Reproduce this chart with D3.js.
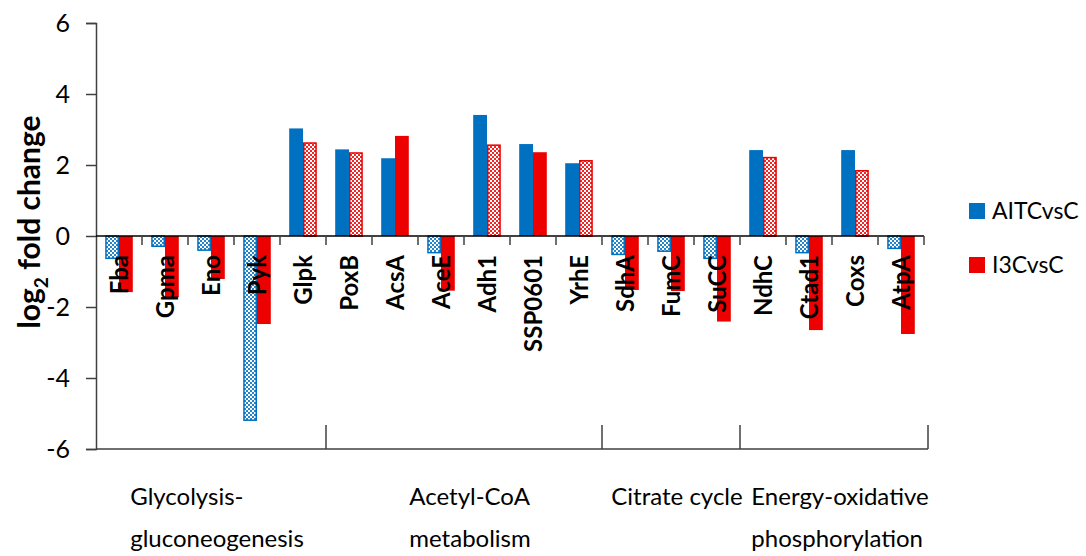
<!DOCTYPE html>
<html>
<head>
<meta charset="utf-8">
<script src="https://cdn.jsdelivr.net/npm/d3@7"></script>
<style>
  html, body { margin: 0; padding: 0; background: #fff; }
  svg { display: block; font-family: Lato, "Noto Sans", sans-serif; }
</style>
</head>
<body>
<svg id="chart" width="1086" height="556"></svg>
<script>
// Gene names along the x axis
const genes = ["Fba", "Gpma", "Eno", "Pyk", "Glpk", "PoxB", "AcsA", "AceE", "Adh1",
  "SSP0601", "YrhE", "SdhA", "FumC", "SuCC", "NdhC", "Ctad1", "Coxs", "AtpA"];

// log2 fold change per treatment
const aitcVsC = [-0.65, -0.31, -0.42, -5.21, 3.03, 2.44, 2.19, -0.49, 3.41,
  2.59, 2.05, -0.54, -0.45, -0.65, 2.42, -0.49, 2.42, -0.37];
const i3cVsC = [-1.58, -1.72, -1.21, -2.48, 2.64, 2.36, 2.82, -1.54, 2.58,
  2.36, 2.14, -1.52, -1.55, -2.41, 2.23, -2.65, 1.86, -2.76];

// Which bars are drawn with the checkered fill
const aitcChecked = [true, true, true, true, false, false, false, true, false,
  false, false, true, true, true, false, true, false, true];
const i3cChecked = [false, false, false, false, true, true, false, false, true,
  false, true, false, false, false, true, false, true, false];

const seriesNames = ["AITCvsC", "I3CvsC"];
const seriesColors = ["#0070C0", "#EC0000"];

// Pathway groups (label lines, number of genes)
const groupLabels = [["Glycolysis-", "gluconeogenesis"], ["Acetyl-CoA", "metabolism"],
  ["Citrate cycle"], ["Energy-oxidative", "phosphorylation"]];
const groupSizes = [5, 6, 3, 4];

const yTicks = [6, 4, 2, 0, -2, -4, -6];

const svg = d3.select("#chart");
const axisColor = "#404040";

const x = d3.scaleBand().domain(genes).range([96, 924]).padding(0);
const x1 = d3.scaleBand().domain(seriesNames)
  .range([x.bandwidth() * 0.2, x.bandwidth() * 0.8]).padding(0);
const y = d3.scaleLinear().domain([-6, 6]).range([449, 23]);

// Checkered fills
const defs = svg.append("defs");
seriesColors.forEach((c, i) => {
  const p = defs.append("pattern")
    .attr("id", "check" + i)
    .attr("patternUnits", "userSpaceOnUse")
    .attr("width", 4).attr("height", 4);
  p.append("rect").attr("width", 4).attr("height", 4).attr("fill", "#fff");
  p.append("rect").attr("width", 2).attr("height", 2).attr("fill", c).attr("opacity", 0.85);
  p.append("rect").attr("x", 2).attr("y", 2).attr("width", 2).attr("height", 2).attr("fill", c).attr("opacity", 0.85);
});

// Bars
const rows = genes.map((g, i) => ({
  gene: g,
  vals: [
    { s: 0, v: aitcVsC[i], checked: aitcChecked[i] },
    { s: 1, v: i3cVsC[i], checked: i3cChecked[i] }
  ]
}));

const bars = svg.append("g");
rows.forEach(r => {
  r.vals.forEach(d => {
    const x0 = x(r.gene) + x1(seriesNames[d.s]);
    const top = y(Math.max(0, d.v));
    const h = Math.abs(y(d.v) - y(0));
    const color = seriesColors[d.s];
    if (d.checked) {
      bars.append("rect")
        .attr("x", x0 + 0.75).attr("y", top + (d.v > 0 ? 0.75 : 0))
        .attr("width", x1.bandwidth() - 1.5).attr("height", Math.max(0, h - 0.75))
        .attr("fill", `url(#check${d.s})`)
        .attr("stroke", color).attr("stroke-width", 1.5);
    } else {
      bars.append("rect")
        .attr("x", x0).attr("y", top)
        .attr("width", x1.bandwidth()).attr("height", h)
        .attr("fill", color);
    }
  });
});

// Y axis
const yAxis = d3.axisLeft(y).tickValues(yTicks).tickSize(10).tickPadding(16)
  .tickFormat(d3.format("d"));
const gy = svg.append("g").attr("transform", "translate(96,0)").call(yAxis);
gy.select(".domain").attr("stroke", axisColor).attr("stroke-width", 1.5);
gy.selectAll(".tick line").attr("stroke", axisColor).attr("stroke-width", 1.5);
gy.selectAll(".tick text").attr("font-size", 25).attr("fill", "#000")
  .attr("font-family", "Lato, sans-serif").text(d => d < 0 ? "-" + Math.abs(d) : d);

// Zero line with category boundary ticks
const gx = svg.append("g").attr("transform", `translate(0,${y(0)})`);
gx.append("line").attr("x1", x.range()[0]).attr("x2", x.range()[1])
  .attr("stroke", "#000").attr("stroke-width", 1.5);
genes.forEach((g, i) => {
  if (i === 0) return;
  gx.append("line").attr("x1", x(g)).attr("x2", x(g)).attr("y1", 0).attr("y2", 9)
    .attr("stroke", axisColor).attr("stroke-width", 1.5);
});
gx.append("line").attr("x1", x.range()[1]).attr("x2", x.range()[1]).attr("y1", 0).attr("y2", 9)
  .attr("stroke", axisColor).attr("stroke-width", 1.5);

// Gene labels, rotated, hanging from the zero line
svg.append("g").selectAll("text").data(genes).join("text")
  .attr("transform", d => `translate(${x(d) + x.bandwidth() / 2},${y(0) + 19}) rotate(-90)`)
  .attr("text-anchor", "end").attr("dy", "0.36em")
  .attr("font-size", 24).attr("font-weight", "bold").attr("fill", "#000")
  .text(d => d);

// Pathway bracket axis along the bottom
const gb = svg.append("g");
const bottomY = y(-6);
gb.append("line").attr("x1", x.range()[0]).attr("x2", x.range()[1] + 4)
  .attr("y1", bottomY).attr("y2", bottomY).attr("stroke", axisColor).attr("stroke-width", 1.5);
let start = 0;
groupSizes.forEach((n, gi) => {
  const endIdx = start + n;
  const xs = x(genes[start]);
  const xe = endIdx < genes.length ? x(genes[endIdx]) : x.range()[1] + 4;
  gb.append("line").attr("x1", xe).attr("x2", xe).attr("y1", bottomY - 24).attr("y2", bottomY)
    .attr("stroke", axisColor).attr("stroke-width", 1.5);
  const block = gb.append("text").attr("font-size", 24).attr("fill", "#000");
  groupLabels[gi].forEach((line, li) => {
    block.append("tspan").attr("x", 0).attr("y", 505 + li * 42).text(line);
  });
  const w = block.node().getBBox().width;
  block.attr("transform", `translate(${(xs + xe) / 2 - w / 2 + 6},0)`);
  start = endIdx;
});

// Y axis title
const title = svg.append("text")
  .attr("transform", `translate(40,${y(0) - 14}) rotate(-90)`)
  .attr("text-anchor", "middle").attr("font-size", 30).attr("font-weight", "bold").attr("fill", "#000");
title.append("tspan").text("log");
title.append("tspan").attr("font-size", 19).attr("dy", 8).text("2");
title.append("tspan").attr("dy", -8).text(" fold change");

// Legend
const legend = svg.append("g");
seriesNames.forEach((s, i) => {
  const cy = 211 + i * 54;
  legend.append("rect").attr("x", 969).attr("y", cy - 8).attr("width", 16).attr("height", 16)
    .attr("fill", seriesColors[i]);
  legend.append("text").attr("x", 992).attr("y", cy).attr("dy", "0.36em")
    .attr("font-size", 23).attr("fill", "#000").text(s);
});
</script>
</body>
</html>
